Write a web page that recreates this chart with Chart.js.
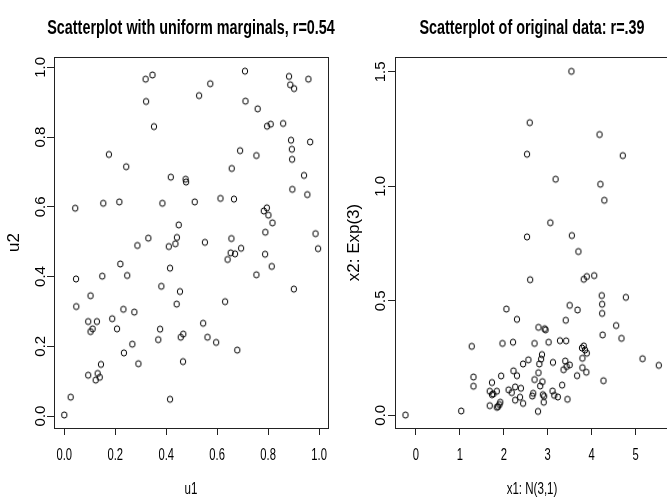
<!DOCTYPE html>
<html>
<head>
<meta charset="utf-8">
<script src="https://cdn.jsdelivr.net/npm/chart.js@4.4.1/dist/chart.umd.min.js"></script>
<style>
  html, body { margin: 0; padding: 0; background: #fff; overflow: hidden; }
  .panel { position: absolute; top: 0; width: 340px; height: 498px; }
</style>
</head>
<body>
<div class="panel" style="left:0"><canvas id="leftChart" width="340" height="498"></canvas></div>
<div class="panel" style="left:340px"><canvas id="rightChart" width="340" height="498"></canvas></div>
<script>
// linkes Panel: uniforme Randverteilungen
const u1 = [0.319, 0.346, 0.321, 0.352, 0.709, 0.573, 0.529, 0.711, 0.759, 0.882,
            0.887, 0.902, 0.958, 0.859, 0.810, 0.796, 0.890, 0.893, 0.894, 0.965,
            0.690, 0.754, 0.175, 0.243, 0.657, 0.418, 0.476, 0.478, 0.941, 0.895,
            0.954, 0.043, 0.153, 0.216, 0.385, 0.512, 0.613, 0.666, 0.795, 0.783,
            0.801, 0.817, 0.449, 0.789, 0.986, 0.330, 0.442, 0.656, 0.552, 0.436,
            0.410, 0.287, 0.694, 0.996, 0.653, 0.670, 0.641, 0.788, 0.220, 0.415,
            0.814, 0.046, 0.149, 0.247, 0.754, 0.901, 0.381, 0.454, 0.103, 0.047,
            0.441, 0.631, 0.232, 0.275, 0.188, 0.094, 0.128, 0.111, 0.103, 0.207,
            0.376, 0.545, 0.467, 0.457, 0.562, 0.596, 0.369, 0.267, 0.679, 0.234,
            0.466, 0.144, 0.291, 0.094, 0.131, 0.139, 0.123, 0.025, 0.415, 0.000];
const u2 = [0.966, 0.978, 0.902, 0.830, 0.989, 0.953, 0.919, 0.903, 0.881, 0.974,
            0.950, 0.939, 0.966, 0.839, 0.837, 0.831, 0.791, 0.765, 0.736, 0.786,
            0.761, 0.747, 0.750, 0.715, 0.710, 0.685, 0.679, 0.671, 0.690, 0.650,
            0.635, 0.596, 0.610, 0.614, 0.610, 0.614, 0.624, 0.622, 0.597, 0.588,
            0.576, 0.554, 0.548, 0.527, 0.523, 0.510, 0.512, 0.509, 0.498, 0.494,
            0.486, 0.489, 0.481, 0.480, 0.468, 0.465, 0.449, 0.464, 0.436, 0.424,
            0.429, 0.393, 0.401, 0.403, 0.405, 0.364, 0.372, 0.357, 0.345, 0.314,
            0.321, 0.328, 0.306, 0.298, 0.279, 0.271, 0.271, 0.250, 0.242, 0.250,
            0.249, 0.266, 0.235, 0.226, 0.226, 0.211, 0.219, 0.206, 0.189, 0.181,
            0.156, 0.148, 0.150, 0.117, 0.122, 0.111, 0.103, 0.054, 0.048, 0.003];

// rechtes Panel: Originaldaten
const x1 = [3.54, 2.59, 4.18, 2.53, 4.71, 3.18, 4.20, 4.29, 3.06, 2.53, 3.55, 3.70,
            2.60, 3.82, 3.89, 4.06, 4.23, 4.78, 4.24, 3.50, 2.06, 3.68,
            4.24, 2.30, 3.41, 4.56, 2.79, 2.93, 2.95, 4.25, 4.68, 1.27,
            1.97, 2.21, 2.70, 3.02, 3.28, 3.42, 3.78, 3.82, 3.85, 3.89,
            2.87, 2.85, 3.79, 5.16, 5.53, 2.56, 2.44, 2.81, 3.12, 3.40,
            3.50, 3.43, 3.36, 3.79, 3.88, 2.79, 2.22, 2.30, 1.94, 1.31,
            1.31, 1.73, 3.67, 4.27, 2.70, 2.88, 2.83, 3.33, 1.68, 1.84,
            1.76, 1.73, 2.11, 2.18, 2.26, 2.39, 3.11, 3.15, 3.23, 2.89,
            2.92, 2.65, 2.67, 2.37, 3.45, 2.26, 2.44, 2.91, 1.68, 1.92,
            1.90, 1.87, 1.84, 2.78, 1.03, -0.24];
const x2 = [1.502, 1.278, 1.226, 1.140, 1.134, 1.031, 1.009, 0.939, 0.841, 0.779, 0.785, 0.715,
            0.592, 0.594, 0.606, 0.610, 0.523, 0.515, 0.485, 0.480, 0.464, 0.460,
            0.445, 0.419, 0.415, 0.392, 0.384, 0.378, 0.373, 0.351, 0.336, 0.301,
            0.314, 0.319, 0.314, 0.319, 0.326, 0.325, 0.294, 0.303, 0.285, 0.271,
            0.265, 0.245, 0.249, 0.247, 0.218, 0.242, 0.224, 0.224, 0.231, 0.237,
            0.220, 0.213, 0.199, 0.208, 0.188, 0.186, 0.194, 0.173, 0.172, 0.167,
            0.127, 0.143, 0.173, 0.151, 0.156, 0.147, 0.128, 0.132, 0.105, 0.105,
            0.093, 0.090, 0.111, 0.099, 0.124, 0.118, 0.106, 0.087, 0.080, 0.090,
            0.083, 0.084, 0.096, 0.079, 0.070, 0.066, 0.052, 0.057, 0.042, 0.057,
            0.047, 0.038, 0.035, 0.017, 0.019, 0.001];

const unitTicks = [0, 0.2, 0.4, 0.6, 0.8, 1.0];
const x1Ticks = [0, 1, 2, 3, 4, 5];
const x2Ticks = [0, 0.5, 1.0, 1.5];

const FONT = "'Liberation Sans', Arial, sans-serif";
const INK = '#000';

// offener Kreis wie pch=1 in R (leicht oval)
function ringSymbol() {
    const c = document.createElement('canvas');
    c.width = 10;
    c.height = 10;
    const g = c.getContext('2d');
    g.strokeStyle = INK;
    g.lineWidth = 1;
    g.beginPath();
    g.ellipse(5, 5, 2.7, 3.1, 0, 0, Math.PI * 2);
    g.stroke();
    return c;
}
const ring = ringSymbol();

function drawText(ctx, text, x, y, font, sx, rotated) {
    ctx.save();
    ctx.translate(x, y);
    if (rotated) ctx.rotate(-Math.PI / 2);
    ctx.scale(sx, 1);
    ctx.font = font;
    ctx.fillText(text, 0, 0);
    ctx.restore();
}

// Rahmen, Titel und Beschriftungen im Stil von base R
const rStyle = {
    id: 'rStyle',
    afterDraw(chart, args, opts) {
        const ctx = chart.ctx;
        const a = chart.chartArea;
        const xs = chart.scales.x;
        const ys = chart.scales.y;
        const mid = (a.left + a.right) / 2;
        ctx.save();
        ctx.strokeStyle = '#222';
        ctx.lineWidth = 1;
        ctx.strokeRect(Math.round(a.left) + 0.5, Math.round(a.top) + 0.5,
                       Math.round(a.right - a.left), Math.round(a.bottom - a.top));
        ctx.fillStyle = INK;
        ctx.textAlign = 'center';
        ctx.textBaseline = 'alphabetic';

        drawText(ctx, opts.title, mid, 34, 'bold 20px ' + FONT, 0.72, false);

        xs.ticks.forEach(t => {
            drawText(ctx, opts.xFmt(t.value), xs.getPixelForValue(t.value), 460, '17px ' + FONT, 0.66, false);
        });
        ys.ticks.forEach(t => {
            drawText(ctx, t.value.toFixed(1), 45, ys.getPixelForValue(t.value), '15px ' + FONT, 1, true);
        });

        drawText(ctx, opts.xLabel, mid, 494, '17px ' + FONT, 0.68, false);
        drawText(ctx, opts.yLabel, 19, (a.top + a.bottom) / 2, '17px ' + FONT, 1, true);
        ctx.restore();
    }
};

function renderScatter(id, xv, yv, cfg) {
    const ctx = document.getElementById(id);
    return new Chart(ctx, {
        type: 'scatter',
        data: {
            datasets: [{
                data: xv.map((v, i) => ({ x: v, y: yv[i] })),
                pointStyle: ring,
                pointRadius: 3,
                borderColor: INK,
            }]
        },
        options: {
            responsive: false,
            animation: false,
            devicePixelRatio: 1,
            layout: { padding: { top: 57, right: cfg.padRight, left: 0, bottom: 0 } },
            plugins: {
                legend: { display: false },
                tooltip: { enabled: false },
                rStyle: cfg.text
            },
            scales: {
                x: {
                    type: 'linear',
                    min: cfg.xMin,
                    max: cfg.xMax,
                    afterBuildTicks: s => { s.ticks = cfg.xTicks.map(v => ({ value: v })); },
                    afterFit: s => { s.height = 70; },
                    ticks: { display: false },
                    border: { display: false },
                    grid: { drawOnChartArea: false, drawTicks: true, tickLength: 7, color: '#222', lineWidth: 1 }
                },
                y: {
                    type: 'linear',
                    min: cfg.yMin,
                    max: cfg.yMax,
                    afterBuildTicks: s => { s.ticks = cfg.yTicks.map(v => ({ value: v })); },
                    afterFit: s => { s.width = cfg.yWidth; },
                    ticks: { display: false },
                    border: { display: false },
                    grid: { drawOnChartArea: false, drawTicks: true, tickLength: 7, color: '#222', lineWidth: 1 }
                }
            }
        },
        plugins: [rStyle]
    });
}

renderScatter('leftChart', u1, u2, {
    padRight: 12, yWidth: 54,
    xMin: -0.0404, xMax: 1.035, yMin: -0.0344, yMax: 1.0296,
    xTicks: unitTicks, yTicks: unitTicks,
    text: {
        title: 'Scatterplot with uniform marginals, r=0.54',
        xLabel: 'u1', yLabel: 'u2',
        xFmt: v => v.toFixed(1)
    }
});

renderScatter('rightChart', x1, x2, {
    padRight: 11, yWidth: 55,
    xMin: -0.478, xMax: 5.763, yMin: -0.0555, yMax: 1.5646,
    xTicks: x1Ticks, yTicks: x2Ticks,
    text: {
        title: 'Scatterplot of original data: r=.39',
        xLabel: 'x1: N(3,1)', yLabel: 'x2: Exp(3)',
        xFmt: v => String(v)
    }
});
</script>
</body>
</html>
